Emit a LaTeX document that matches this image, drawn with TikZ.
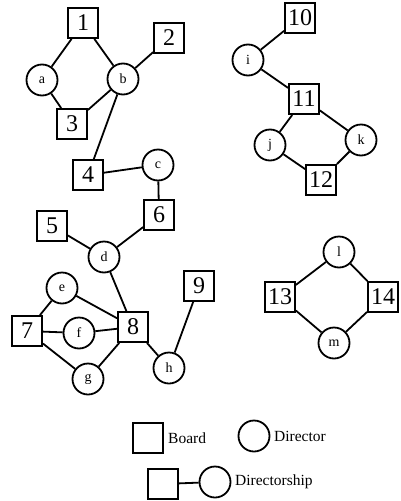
\documentclass[tikz,border=0pt]{standalone}
\usepackage{fontspec}
\setmainfont{Liberation Serif}
\begin{document}
\begin{tikzpicture}[x=1pt,y=-1pt,
  board/.style={draw,line width=1.8pt,minimum size=30pt,inner sep=0pt,font=\fontsize{24}{24}\selectfont},
  director/.style={draw,circle,line width=1.8pt,minimum size=31pt,inner sep=0pt,font=\fontsize{14}{14}\selectfont},
  lbl/.style={font=\fontsize{15.5}{16}\selectfont,anchor=west,inner sep=0pt},
  tie/.style={line width=1.8pt}]
\useasboundingbox (0,0) rectangle (400,501);
% boards
\node[board] (n1) at (83,23) {1};
\node[board] (n2) at (169,38) {2};
\node[board] (n3) at (72,124) {3};
\node[board] (n4) at (88,175) {4};
\node[board] (n5) at (52,226) {5};
\node[board] (n6) at (159,215) {6};
\node[board] (n7) at (27,331) {7};
\node[board] (n8) at (133,327) {8};
\node[board] (n9) at (199,286) {9};
\node[board] (n10) at (300,18) {10};
\node[board] (n11) at (304,99) {11};
\node[board] (n12) at (321,180) {12};
\node[board] (n13) at (280,297) {13};
\node[board] (n14) at (383,297) {14};
% directors
\node[director] (a) at (42,80) {a};
\node[director] (b) at (123,79) {b};
\node[director] (c) at (158,165) {c};
\node[director] (d) at (104,257) {d};
\node[director] (e) at (62,288) {e};
\node[director] (f) at (79,333) {f};
\node[director] (g) at (88,379) {g};
\node[director] (h) at (169,368) {h};
\node[director] (i) at (248,60) {i};
\node[director] (j) at (270,145) {j};
\node[director] (k) at (361,140) {k};
\node[director] (l) at (339,252) {l};
\node[director] (m) at (334,343) {m};
% ties
\draw[tie] (n1) -- (a);
\draw[tie] (n1) -- (b);
\draw[tie] (n2) -- (b);
\draw[tie] (a) -- (n3);
\draw[tie] (b) -- (n3);
\draw[tie] (b) -- (n4);
\draw[tie] (n4) -- (c);
\draw[tie] (c) -- (n6);
\draw[tie] (n6) -- (d);
\draw[tie] (n5) -- (d);
\draw[tie] (d) -- (n8);
\draw[tie] (e) -- (n7);
\draw[tie] (e) -- (n8);
\draw[tie] (n7) -- (f);
\draw[tie] (f) -- (n8);
\draw[tie] (n7) -- (g);
\draw[tie] (g) -- (n8);
\draw[tie] (n8) -- (h);
\draw[tie] (h) -- (n9);
\draw[tie] (n10) -- (i);
\draw[tie] (i) -- (n11);
\draw[tie] (n11) -- (j);
\draw[tie] (n11) -- (k);
\draw[tie] (j) -- (n12);
\draw[tie] (k) -- (n12);
\draw[tie] (l) -- (n13);
\draw[tie] (l) -- (n14);
\draw[tie] (n13) -- (m);
\draw[tie] (m) -- (n14);
% legend
\node[board] (lb) at (148,438) {};
\node[lbl] (lbt) at (168,438) {Board};
\node[director] (ld) at (254,436) {};
\node[lbl] (ldt) at (274,436) {Director};
\node[board] (ls) at (163,484) {};
\node[director] (lc) at (215,482) {};
\draw[tie] (ls) -- (lc);
\node[lbl] (lst) at (235,482) {Directorship};
\end{tikzpicture}
\end{document}
